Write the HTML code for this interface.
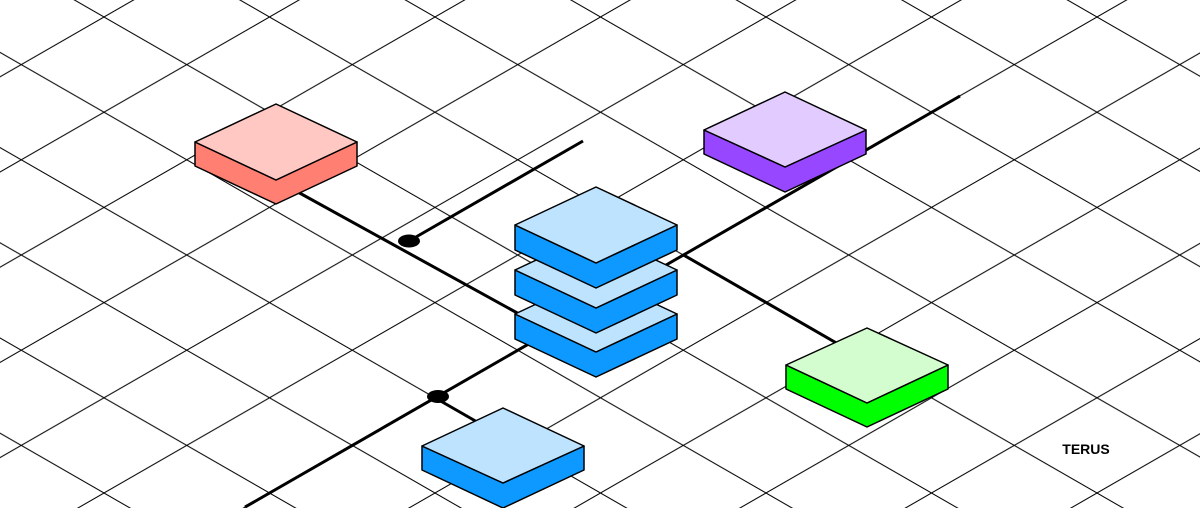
<!DOCTYPE html>
<html><head><meta charset="utf-8"><style>
html,body{margin:0;padding:0;background:#fff;}
svg{display:block;}
</style></head><body>
<svg width="1200" height="508" viewBox="0 0 1200 508" xmlns="http://www.w3.org/2000/svg">
<defs>
<pattern id="g" patternUnits="userSpaceOnUse" x="-61.5" y="-78.2" width="165.5" height="95.2">
<line x1="0" y1="0" x2="165.5" y2="95.2" stroke="#000" stroke-width="1"/>
<line x1="0" y1="95.2" x2="165.5" y2="0" stroke="#000" stroke-width="1"/>
</pattern>
</defs>
<rect width="1200" height="508" fill="url(#g)"/>
<g stroke="#000" stroke-width="3" fill="none" stroke-linecap="butt">
<line x1="276" y1="180" x2="530" y2="320"/>
<line x1="409" y1="241" x2="583" y2="141"/>
<line x1="245" y1="507.1" x2="540" y2="337.5"/>
<line x1="438" y1="399.5" x2="485" y2="426.5"/>
<line x1="660" y1="268.5" x2="960" y2="96"/>
<line x1="683" y1="254.7" x2="838" y2="343.9"/>
</g>
<ellipse cx="409" cy="241" rx="11" ry="6.5" fill="#000"/>
<ellipse cx="438" cy="396.5" rx="11" ry="6.5" fill="#000"/>
<g stroke="#000" stroke-width="1.5" stroke-linejoin="round">
<polygon points="195,142 276,180 357,142 357,166 276,204 195,166" fill="#ff7f72"/>
<polygon points="276,104 357,142 276,180 195,142" fill="#ffc8c3"/>
<polygon points="704,130 785,167 866,130 866,154 785,192 704,154" fill="#9747ff"/>
<polygon points="785,92 866,130 785,167 704,130" fill="#e2ccff"/>
<polygon points="515,314 596,352 677,314 677,339 596,377 515,339" fill="#0d99ff"/>
<polygon points="596,276 677,314 596,352 515,314" fill="#bde3ff"/>
<polygon points="515,270 596,308 677,270 677,295 596,333 515,295" fill="#0d99ff"/>
<polygon points="596,232 677,270 596,308 515,270" fill="#bde3ff"/>
<polygon points="515,225 596,263 677,225 677,250 596,288 515,250" fill="#0d99ff"/>
<polygon points="596,187 677,225 596,263 515,225" fill="#bde3ff"/>
<polygon points="786,365 867,403 948,365 948,389 867,427 786,389" fill="#00ff00"/>
<polygon points="867,328 948,365 867,403 786,365" fill="#d4fdcf"/>
<polygon points="422,446 503,483 584,446 584,470 503,508 422,470" fill="#0d99ff"/>
<polygon points="503,408 584,446 503,483 422,446" fill="#bde3ff"/>
</g>
<text x="1086" y="454" font-family="Liberation Sans, sans-serif" font-weight="bold" font-size="14" text-anchor="middle" fill="#000">TERUS</text>
</svg>
</body></html>
